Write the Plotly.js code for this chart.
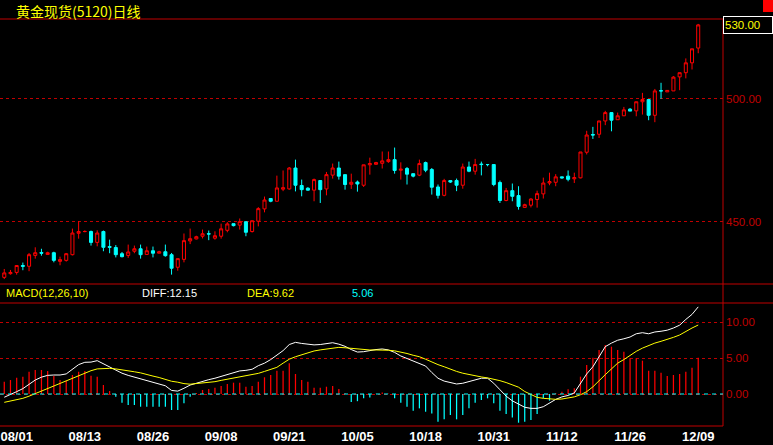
<!DOCTYPE html>
<html><head><meta charset="utf-8">
<script src="https://cdn.plot.ly/plotly-3.0.1.min.js"></script>
<style>html,body{margin:0;padding:0;background:#000;overflow:hidden}#chart{width:773px;height:445px}</style>
</head><body><div id="chart"></div>
<script>
const dateLabels = ['08/01','08/13','08/26','09/08','09/21','10/05','10/18','10/31','11/12','11/26','12/09'];
const labelIdx = [2,13,24,35,46,57,68,79,90,101,112];
const title = '黄金现货(5120)日线';
const macdName = 'MACD(12,26,10)';

const open = [427.5,429.0,429.5,432.3,432.0,436.4,437.6,436.8,437.5,434.0,
434.4,436.7,445.4,446.1,446.1,441.7,446.1,440.0,439.6,437.1,
436.4,438.1,439.1,436.8,438.3,437.3,437.9,436.7,431.6,434.8,
442.3,443.1,444.2,445.2,443.4,444.2,446.6,449.3,448.7,450.1,
446.1,450.3,455.3,459.5,458.4,463.3,463.4,471.9,464.8,463.7,
462.9,466.8,463.4,469.0,471.9,469.2,465.3,466.2,464.9,473.2,
473.4,473.8,474.5,475.3,471.0,471.7,469.6,469.0,474.1,471.3,
464.2,460.8,466.8,466.8,464.9,472.3,470.6,473.5,473.3,473.3,
466.0,458.7,462.7,460.7,455.9,456.8,459.1,461.4,465.8,466.1,
468.3,468.6,467.5,467.9,478.3,485.5,485.6,491.0,494.4,491.5,
493.1,495.8,495.1,498.8,499.7,493.3,503.3,502.8,503.2,508.9,
510.6,514.6,520.6];
const high = [430.9,430.5,432.5,433.5,437.4,439.7,439.1,437.9,437.9,435.9,
437.4,447.3,450.3,446.6,446.5,446.6,446.5,442.8,440.6,437.8,
440.8,440.4,440.8,440.0,440.0,438.3,440.8,437.4,435.1,445.3,
447.3,444.4,446.9,446.5,446.2,449.3,449.9,449.3,451.4,450.1,
450.5,456.0,460.3,459.7,468.8,470.9,472.3,475.3,467.2,464.1,
467.6,466.8,470.3,473.7,474.5,469.2,469.6,466.8,473.2,476.1,
474.4,478.6,478.6,480.2,474.2,472.3,469.6,475.3,474.5,471.9,
465.2,467.5,466.8,467.6,473.7,474.5,475.6,474.5,473.3,473.3,
466.8,463.8,465.6,464.5,457.4,459.6,462.7,468.0,470.0,469.4,
468.3,470.9,470.0,478.4,487.0,488.6,491.0,495.1,494.4,494.4,
496.7,496.2,498.8,502.4,499.7,504.0,506.5,503.4,509.2,510.6,
516.4,520.3,530.4];
const low = [426.8,428.6,428.6,430.4,430.0,435.1,436.3,436.8,433.6,432.4,
433.9,436.4,443.2,445.8,440.4,440.1,438.1,437.3,435.6,435.6,
435.4,437.3,435.1,436.8,435.6,437.3,435.9,428.6,430.2,433.6,
441.0,442.9,443.3,442.6,442.8,443.2,445.8,448.2,446.9,444.2,
445.7,448.2,453.9,458.0,458.4,462.5,463.1,462.4,460.4,462.7,
458.4,457.7,460.8,467.6,467.2,463.1,463.4,462.3,464.2,469.2,
473.2,471.7,474.0,469.6,467.2,465.2,468.1,468.6,470.2,461.1,
459.5,460.4,465.8,462.5,463.5,470.2,469.2,468.9,472.6,464.5,
457.7,458.4,458.4,455.0,455.9,455.9,455.8,459.5,464.9,464.5,
467.6,466.5,465.8,467.7,477.4,483.7,484.1,489.3,486.8,491.5,
493.0,495.0,492.9,493.6,491.3,490.5,500.0,502.8,503.2,503.5,
508.3,511.9,518.5];
const close = [429.3,429.5,432.3,432.0,436.7,437.5,437.3,437.5,434.4,434.7,
437.1,445.5,446.1,446.1,441.7,445.5,439.7,439.7,436.7,435.9,
437.8,439.1,436.7,438.3,437.3,437.9,436.3,431.2,435.1,442.4,
443.2,444.0,445.2,445.1,444.4,447.2,449.2,448.5,450.1,445.8,
450.5,455.4,458.9,458.4,463.8,463.9,471.9,464.9,463.1,462.9,
467.2,463.1,469.2,471.9,468.6,465.2,466.1,465.4,473.2,473.7,
474.1,474.8,475.3,470.9,471.4,469.4,468.6,473.7,471.0,464.1,
460.8,466.8,466.2,464.9,472.3,470.6,473.3,473.3,473.3,465.2,
458.7,462.7,460.4,456.3,457.0,459.3,461.5,465.8,466.4,468.3,
467.9,467.3,468.0,478.4,485.3,485.3,491.0,494.4,491.3,493.1,
495.5,495.0,498.8,499.7,493.3,503.2,503.2,503.4,508.8,510.6,
514.6,520.3,530.0];

const diff = [-0.45,-0.1,0.33,0.75,1.4,1.95,2.35,2.6,2.65,2.65,
2.8,3.5,4.1,4.42,4.45,4.65,4.2,3.75,3.3,2.9,
2.6,2.35,2.05,1.8,1.6,1.38,1.15,0.5,0.4,0.8,
1.25,1.5,1.78,2.0,2.2,2.45,2.75,3.0,3.22,3.3,
3.45,3.95,4.3,4.8,5.45,6.05,6.9,7.2,7.05,6.9,
6.85,6.9,7.0,7.15,6.95,6.65,6.2,5.85,5.9,6.1,
6.2,6.28,6.15,5.8,5.3,4.95,4.6,4.35,3.9,3.0,
2.2,1.8,1.55,1.4,1.5,1.7,1.95,2.2,2.2,1.5,
0.6,-0.3,-0.95,-1.4,-1.85,-2.0,-2.0,-1.77,-1.2,-0.75,
-0.4,-0.2,0.15,1.4,2.8,3.8,5.25,6.6,7.1,7.5,
7.7,7.95,8.4,8.55,8.4,8.65,8.75,8.9,9.2,9.6,
10.4,11.1,12.15];
const dea = [-1.16,-1.0,-0.82,-0.6,-0.3,0.05,0.45,0.78,1.15,1.48,
1.82,2.2,2.55,2.95,3.25,3.5,3.58,3.58,3.5,3.4,
3.28,3.1,2.95,2.68,2.5,2.3,2.0,1.78,1.65,1.45,
1.37,1.45,1.5,1.62,1.72,1.9,2.05,2.25,2.42,2.58,
2.75,2.88,3.15,3.45,3.72,4.3,4.85,5.2,5.5,5.8,
6.0,6.15,6.3,6.45,6.5,6.45,6.35,6.25,6.18,6.14,
6.14,6.14,6.1,6.02,5.85,5.65,5.4,5.2,4.85,4.45,
4.1,3.8,3.45,3.15,2.9,2.7,2.5,2.38,2.25,2.1,
1.86,1.6,1.3,0.95,0.35,-0.1,-0.47,-0.6,-0.68,-0.74,
-0.7,-0.6,-0.4,-0.1,0.33,1.0,1.9,2.7,3.5,4.3,
4.8,5.4,5.95,6.4,6.8,7.1,7.35,7.6,7.9,8.23,
8.75,9.2,9.62];
const macd = [1.72,1.95,2.28,2.42,3.12,3.35,3.35,3.21,2.51,1.95,
1.86,2.65,3.12,3.21,2.56,2.42,1.26,0.42,-0.37,-1.21,
-1.53,-1.53,-1.77,-1.77,-1.77,-1.77,-1.77,-2.23,-2.23,-1.30,
-0.37,0.15,0.56,0.70,0.88,1.12,1.40,1.58,1.58,1.02,
1.12,1.72,2.33,2.65,3.26,3.26,4.28,2.79,1.95,1.72,
0.88,0.88,1.02,1.12,0.70,0.10,-1.10,-1.00,-0.60,-0.50,
0.05,0.20,0.05,-0.60,-1.21,-1.77,-2.33,-2.00,-2.47,-2.70,
-3.86,-3.53,-2.93,-3.53,-2.93,-2.00,-1.21,-0.84,-0.60,-1.30,
-2.33,-2.80,-3.26,-4.00,-3.86,-3.63,-2.80,-0.60,-0.93,0.10,
0.33,0.65,0.80,2.42,4.05,5.07,6.14,6.84,6.60,6.14,
5.90,4.98,4.98,4.65,3.26,3.26,2.98,2.51,2.65,2.79,
3.12,3.67,5.06];

const priceTicks = [450, 500];
const macdTicks = [0, 5, 10];

const idx = close.map((_, i) => i);
const macdUp = macd.map(v => v >= 0 ? v : null);
const macdDn = macd.map(v => v < 0 ? v : null);
const last = close.length - 1;

const SANS = "'Liberation Sans', Arial, sans-serif";
const FRAME = '#c00000';
const W = 773, PR = 723;
const xr = 1 + (W - PR) / PR;

const traces = [
  {type:'candlestick', x: idx, open: open, high: high, low: low, close: close,
   xaxis:'x', yaxis:'y', whiskerwidth:0, hoverinfo:'skip',
   increasing:{line:{color:'#ff0000', width:1}, fillcolor:'#000000'},
   decreasing:{line:{color:'#00ffff', width:1}, fillcolor:'#00ffff'}},
  {type:'bar', x: idx, y: macdUp, xaxis:'x', yaxis:'y2', width:0.2,
   marker:{color:'#ff0000', line:{width:0}}, hoverinfo:'skip'},
  {type:'bar', x: idx, y: macdDn, xaxis:'x', yaxis:'y2', width:0.2,
   marker:{color:'#00ffff', line:{width:0}}, hoverinfo:'skip'},
  {type:'scatter', mode:'lines', x: idx, y: diff, xaxis:'x', yaxis:'y2',
   line:{color:'#ffffff', width:1}, hoverinfo:'skip'},
  {type:'scatter', mode:'lines', x: idx, y: dea, xaxis:'x', yaxis:'y2',
   line:{color:'#ffff00', width:1}, hoverinfo:'skip'}
];

const topDom = [(426 - 284) / 407, 1];
const botDom = [0, (426 - 303) / 407];

function hline(y, x1, color, dash) {
  return {type:'line', xref:'paper', yref:'paper', x0:0, x1:x1, y0:y, y1:y,
          line:{color:color, width:1, dash:dash || 'solid'}};
}

const hdrY = (426 - 293) / 407;
function hdr(text, xpx, color) {
  return {text: text, xref:'paper', yref:'paper', x: xpx / PR, y: hdrY, xanchor:'left', yanchor:'middle',
          showarrow:false, font:{family:SANS, size:11, color:color}};
}

const layout = {
  width: 773, height: 445,
  margin: {l:0, r:50, t:19, b:19, pad:0},
  paper_bgcolor:'#000000', plot_bgcolor:'#000000',
  showlegend:false, hovermode:false, barmode:'overlay',
  xaxis: {range:[-0.69, 116.0], anchor:'y2', tickmode:'array', tickvals: labelIdx, ticktext: dateLabels,
          tickfont:{family:SANS, size:13, color:'#ffffff', weight:'bold'}, ticks:'', ticklabelstandoff:1,
          ticklabeloverflow:'allow',
          showgrid:false, zeroline:false, showline:false, rangeslider:{visible:false}, fixedrange:true},
  yaxis: {domain: topDom, range:[424.8, 532.4], side:'right', tickmode:'array', tickvals: priceTicks,
          ticktext: priceTicks.map(v => v.toFixed(2)), tickfont:{family:SANS, size:11.5, color:FRAME},
          ticks:'', showgrid:true, gridcolor:FRAME, gridwidth:1, griddash:'3px,3px',
          zeroline:false, showline:false, fixedrange:true, ticklabelstandoff:2},
  yaxis2: {domain: botDom, range:[-4.46, 12.69], side:'right', tickmode:'array', tickvals: macdTicks,
          ticktext: macdTicks.map(v => v.toFixed(2)), tickfont:{family:SANS, size:11.5, color:FRAME},
          ticks:'', showgrid:true, gridcolor:FRAME, gridwidth:1, griddash:'3px,3px',
          zeroline:false, showline:false, fixedrange:true, ticklabelstandoff:2},
  shapes: [
    hline(1, 1, FRAME),
    hline(topDom[0], xr, FRAME),
    hline(botDom[1], xr, FRAME),
    hline(0, 1, FRAME),
    {type:'line', xref:'paper', yref:'paper', x0:1, x1:1, y0:0, y1:1, line:{color:FRAME, width:1}},
    {type:'line', xref:'paper', yref:'y2', x0:0, x1:1, y0:0, y1:0, line:{color:'#00ffff', width:1, dash:'4px,4px'}},
    {type:'rect', xref:'paper', yref:'paper', x0:(763)/PR, x1:xr, y0:(426-12)/407, y1:426/407,
     fillcolor:'#ff0000', line:{width:0}}
  ],
  annotations: [
    {text: title, xref:'paper', yref:'paper', x:15/PR, y:426/407, xanchor:'left', yanchor:'top',
     borderpad:0, showarrow:false, font:{family:"'Noto Sans CJK SC', sans-serif", size:14, color:'#ffff00'}},
    hdr(macdName, 4, '#ffff00'),
    hdr('DIFF:' + diff[last].toFixed(2), 140, '#ffffff'),
    hdr('DEA:' + dea[last].toFixed(2), 245, '#ffff00'),
    hdr(macd[last].toFixed(2), 350, '#00ffff'),
    {text: close[last].toFixed(2), xref:'paper', yref:'y', x:1, y:close[last], xanchor:'left', yanchor:'middle',
     xshift:0, showarrow:false, width:46, height:14, align:'left', borderpad:1, borderwidth:1,
     bordercolor:'#ffffff', bgcolor:'#000000', font:{family:SANS, size:11.5, color:'#ffff00'}}
  ]
};

Plotly.newPlot('chart', traces, layout, {staticPlot:true, displayModeBar:false});
</script>
</body></html>
